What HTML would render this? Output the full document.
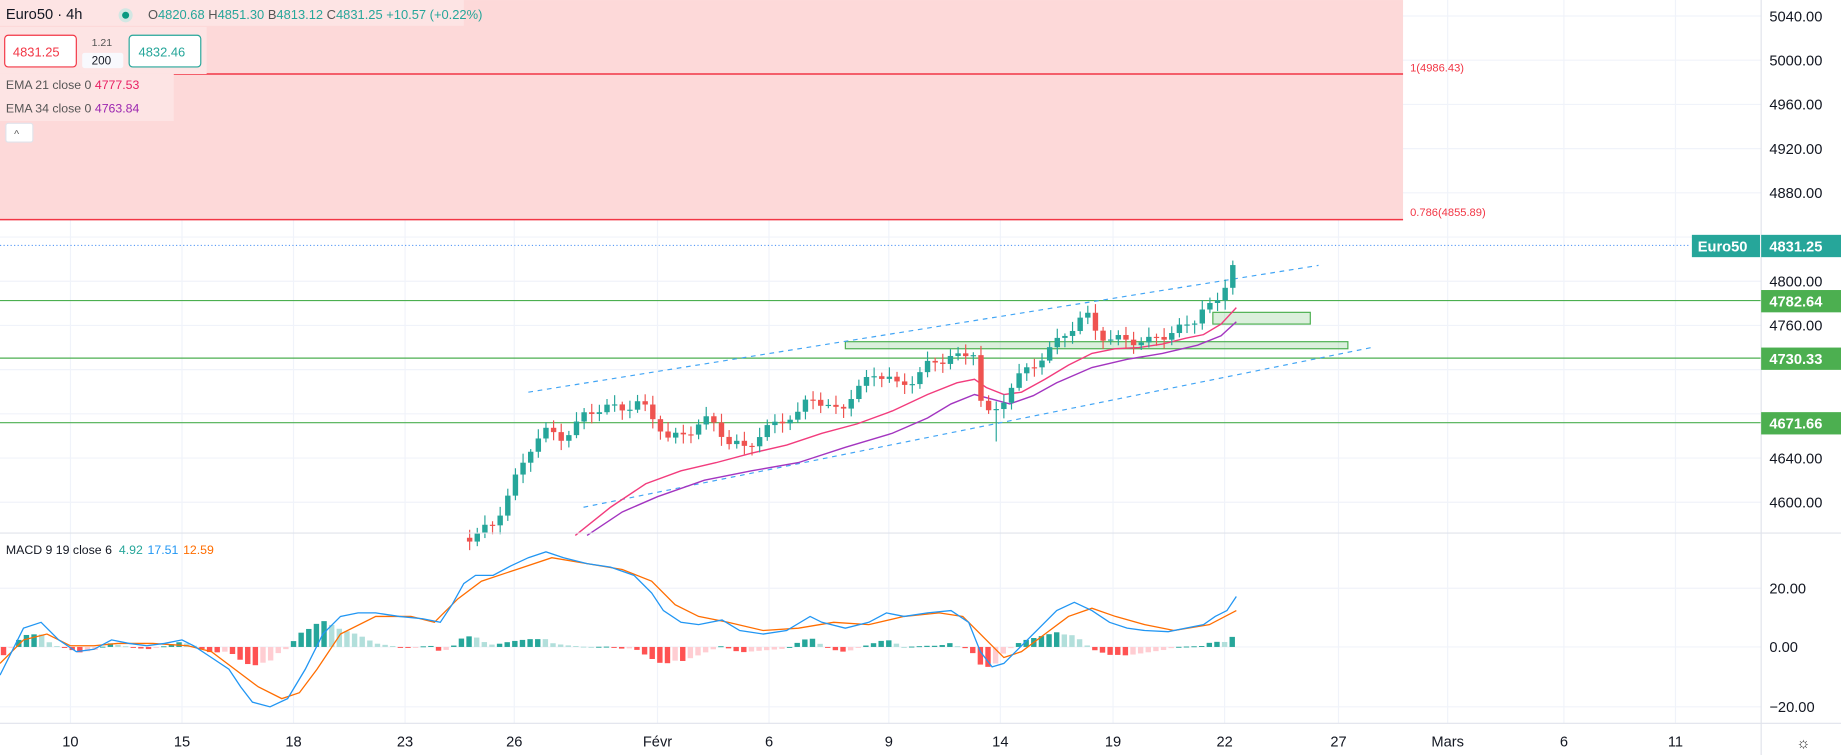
<!DOCTYPE html>
<html><head><meta charset="utf-8"><style>
html,body{margin:0;padding:0;background:#fff;overflow:hidden}
svg{display:block}
text{font-family:"Liberation Sans",sans-serif}
</style></head><body>
<svg id="s" width="1841" height="755" viewBox="0 0 1568 643" xmlns="http://www.w3.org/2000/svg">
<rect x="0" y="0" width="1568" height="643" fill="#fff"/>
<g id="grid" stroke="#f0f3fa" stroke-width="1"></g>
<rect x="0" y="0" width="1195" height="187" fill="#fdd9d9"/>
<line x1="0" y1="63" x2="1195" y2="63" stroke="#f23645" stroke-width="1.3"/>
<line x1="0" y1="187" x2="1195" y2="187" stroke="#f23645" stroke-width="1.3"/>
<text x="1201" y="61" font-size="9.5" fill="#f23645">1(4986.43)</text>
<text x="1201" y="184" font-size="9.5" fill="#f23645">0.786(4855.89)</text>
<line x1="0" y1="256" x2="1500" y2="256" stroke="#4caf50" stroke-width="1"/>
<line x1="0" y1="305" x2="1500" y2="305" stroke="#4caf50" stroke-width="1"/>
<line x1="0" y1="360" x2="1500" y2="360" stroke="#4caf50" stroke-width="1"/>
<rect x="720" y="291" width="428" height="6" fill="rgba(76,175,80,0.2)" stroke="#4caf50" stroke-width="1"/>
<rect x="1033" y="266" width="83" height="10" fill="rgba(76,175,80,0.2)" stroke="#4caf50" stroke-width="1"/>
<line x1="450" y1="334" x2="1123" y2="226" stroke="#42a5f5" stroke-dasharray="4,4" stroke-width="1"/>
<line x1="497" y1="432" x2="1168" y2="296" stroke="#42a5f5" stroke-dasharray="4,4" stroke-width="1"/>
<line x1="0" y1="209" x2="1440" y2="209" stroke="#5b9cf6" stroke-dasharray="1,2" stroke-width="1"/>
<g id="ema"></g>
<g id="candles"></g>
<g id="macd"></g>
<line x1="0" y1="454" x2="1568" y2="454" stroke="#e0e3eb"/>
<line x1="0" y1="616" x2="1568" y2="616" stroke="#e0e3eb"/>
<line x1="1500" y1="0" x2="1500" y2="643" stroke="#e0e3eb"/>
<g id="axis" font-size="12.5" fill="#131722"></g>
<rect x="1441" y="200" width="58" height="19" fill="#26a69a"/>
<text x="1446" y="214" font-size="12.5" fill="#fff" font-weight="bold">Euro50</text>
<rect x="1500" y="200" width="68" height="19" fill="#26a69a"/>
<text x="1507" y="214" font-size="12.5" fill="#fff" font-weight="bold">4831.25</text>
<rect x="1500" y="247" width="68" height="19" fill="#4caf50"/>
<text x="1507" y="261" font-size="12.5" fill="#fff" font-weight="bold">4782.64</text>
<rect x="1500" y="296" width="68" height="19" fill="#4caf50"/>
<text x="1507" y="310" font-size="12.5" fill="#fff" font-weight="bold">4730.33</text>
<rect x="1500" y="351" width="68" height="19" fill="#4caf50"/>
<text x="1507" y="365" font-size="12.5" fill="#fff" font-weight="bold">4671.66</text>
<rect x="0" y="0" width="395" height="22" fill="#fde4e4"/>
<text x="5" y="16" font-size="12.5" fill="#131722">Euro50 · 4h</text>
<circle cx="107" cy="13" r="6" fill="#d2e7e3"/><circle cx="107" cy="13" r="3" fill="#089981"/>
<text x="126" y="16" font-size="11" fill="#26a69a"><tspan fill="#555">O</tspan>4820.68 <tspan fill="#555">H</tspan>4851.30 <tspan fill="#555">B</tspan>4813.12 <tspan fill="#555">C</tspan>4831.25 +10.57 (+0.22%)</text>
<rect x="0" y="23" width="176" height="40" fill="#fde4e4"/>
<rect x="4" y="30" width="61" height="27" rx="3" fill="#fff" stroke="#f23645"/>
<text x="11" y="48" font-size="11" fill="#f23645">4831.25</text>
<text x="78" y="39" font-size="9" fill="#555">1.21</text>
<rect x="70" y="45" width="35" height="13" rx="2" fill="#f8f9fd"/>
<text x="78" y="55" font-size="10" fill="#131722">200</text>
<rect x="110" y="30" width="61" height="27" rx="3" fill="#fff" stroke="#26a69a"/>
<text x="118" y="48" font-size="11" fill="#26a69a">4832.46</text>
<rect x="0" y="63" width="148" height="40" fill="#fde4e4"/>
<text x="5" y="76" font-size="10.5" fill="#555">EMA 21 close 0 <tspan fill="#e91e63">4777.53</tspan></text>
<text x="5" y="96" font-size="10.5" fill="#555">EMA 34 close 0 <tspan fill="#9c27b0">4763.84</tspan></text>
<rect x="5" y="105" width="23" height="16" rx="2" fill="#fff" stroke="#e0e3eb"/>
<text x="12" y="117" font-size="9" fill="#555">^</text>
<text x="5" y="472" font-size="10.5" fill="#131722">MACD 9 19 close 6 <tspan fill="#26a69a" dx="3">4.92</tspan><tspan fill="#2196f3" dx="4">17.51</tspan><tspan fill="#ff6d00" dx="4">12.59</tspan></text>
<text x="1530" y="637" font-size="13" fill="#333">☼</text>
</svg>
<script>
const NS="http://www.w3.org/2000/svg";
function el(tag,attrs,parent,txt){const e=document.createElementNS(NS,tag);for(const k in attrs)e.setAttribute(k,attrs[k]);if(txt!==undefined)e.textContent=txt;document.getElementById(parent).appendChild(e);return e;}
function interp(pts,x){if(x<=pts[0][0])return pts[0][1];for(let i=1;i<pts.length;i++){if(x<=pts[i][0]){const a=pts[i-1],b=pts[i];return a[1]+(b[1]-a[1])*(x-a[0])/(b[0]-a[0]);}}return pts[pts.length-1][1];}
const py=p=>360.3+(4671.66-p)*0.9412;
const tx=[[60,"10"],[155,"15"],[250,"18"],[345,"23"],[438,"26"],[560,"Févr"],[655,"6"],[757,"9"],[852,"14"],[948,"19"],[1043,"22"],[1140,"27"],[1233,"Mars"],[1332,"6"],[1427,"11"]];
tx.forEach(t=>{el("line",{x1:t[0],y1:0,x2:t[0],y2:616},"grid");el("text",{x:t[0],y:636,"text-anchor":"middle"},"axis",t[1]);});
[5040,5000,4960,4920,4880,4840,4800,4760,4720,4680,4640,4600].forEach(p=>{const y=py(p);el("line",{x1:0,y1:y,x2:1500,y2:y},"grid");if([4840,4720,4680].indexOf(p)<0)el("text",{x:1507,y:y+4.5},"axis",p.toFixed(2));});
[[501,"20.00"],[551,"0.00"],[602,"\u221220.00"]].forEach(a=>{el("line",{x1:0,y1:a[0],x2:1500,y2:a[0]},"grid");el("text",{x:1507,y:a[0]+4.5},"axis",a[1]);});
const cp=[[400,458],[420,445],[437,410],[445,395],[455,375],[465,370],[480,375],[490,365],[500,350],[515,345],[530,345],[545,343],[560,362],[570,378],[580,372],[590,366],[600,357],[610,358],[620,375],[635,380],[650,370],[665,360],[680,355],[690,335],[705,345],[715,348],[725,335],[745,320],[755,322],[765,332],[775,326],[790,310],[800,305],[810,300],[820,305],[830,298],[836,345],[842,355],[850,352],[860,332],[870,320],[880,310],[895,295],[905,283],[915,276],[925,268],[935,285],[945,293],[960,290],[975,292],[985,285],[1000,280],[1015,275],[1025,262],[1035,265],[1043,245],[1048,236],[1053,210]];
let prev=interp(cp,395);
for(let x=400;x<=1054;x+=6.5){
 let c=interp(cp,x)+Math.sin(x*1.7)*4+Math.cos(x*0.9)*2.5;
 if(x>1050)c=210;
 const o=prev;const up=c<o;
 let hi=Math.min(o,c)-2-Math.abs(Math.sin(x*3.1))*6;let lo=Math.max(o,c)+2+Math.abs(Math.cos(x*2.3))*6;
 if(x>1050)hi=190; if(Math.abs(x-848)<4)lo=376;
 const col=up?"#26a69a":"#ef5350";
 el("line",{x1:x,y1:hi,x2:x,y2:lo,stroke:col,"stroke-width":1},"candles");
 el("rect",{x:x-2.3,y:Math.min(o,c),width:4.6,height:Math.max(1,Math.abs(o-c)),fill:col},"candles");
 prev=c;
}
const pink=[[490,456],[520,432],[550,412],[580,401],[610,394],[640,386],[670,379],[700,369],[730,361],[760,350],[790,336],[815,326],[830,323],[840,330],[855,336],[870,334],[890,323],[910,311],[930,301],[950,297],[970,296],[990,293],[1010,288],[1025,285],[1040,276],[1053,262]];
const purp=[[500,456],[530,436],[560,423],[600,409],[640,401],[680,394],[720,381],[760,369],[790,356],[810,344],[830,336],[845,340],[860,344],[880,337],[900,326],[930,313],[960,306],[990,301],[1020,294],[1040,286],[1053,274]];
const pth=p=>"M"+p.map(a=>a[0]+","+a[1]).join(" L");
el("path",{d:pth(pink),fill:"none",stroke:"#f23c7d","stroke-width":1.2},"ema");
el("path",{d:pth(purp),fill:"none",stroke:"#a335c0","stroke-width":1.2},"ema");
const blue=[[0,575],[10,555],[20,535],[35,530],[50,545],[65,555],[80,553],[95,545],[110,548],[125,550],[140,548],[155,545],[165,550],[180,560],[195,570],[205,585],[215,598],[230,602],[245,595],[260,570],[275,540],[290,525],[305,522],[320,522],[340,525],[360,527],[375,530],[385,515],[395,497],[405,490],[420,490],[435,482],[450,475],[465,470],[480,475],[500,480],[520,483],[540,490],[555,505],[565,520],[580,530],[595,532],[615,528],[630,537],[650,540],[670,537],[690,525],[700,530],[720,535],[740,530],[755,522],[770,525],[790,522],[810,520],[825,530],[835,555],[845,568],[855,565],[870,550],[885,535],[900,520],[915,513],[930,520],[945,530],[960,535],[975,537],[995,538],[1010,535],[1025,532],[1035,525],[1045,520],[1053,508]];
const orng=[[0,565],[20,545],[40,540],[60,550],[80,550],[100,548],[130,548],[160,550],[180,555],[200,570],[220,585],[240,595],[255,590],[270,570],[290,540],[320,525],[350,525],[370,530],[390,510],[410,495],[440,485],[470,475],[500,480],[530,485],[555,495],[575,515],[595,525],[620,530],[650,537],[680,535],[710,530],[740,532],[770,525],[800,522],[820,525],[840,545],[855,560],[870,555],[890,540],[910,525],[930,518],[950,525],[975,532],[1000,537],[1030,532],[1053,520]];
let ph=0;
for(let x=3;x<=1054;x+=6.5){
 const h=(interp(orng,x)-interp(blue,x))*1.0;
 let col;
 if(h>=0)col=h>=ph?"#26a69a":"#b2dfdb";else col=h<ph?"#ff5252":"#ffcdd2";
 el("rect",{x:x-2.3,y:h>=0?551-h:551,width:4.6,height:Math.max(0.8,Math.abs(h)),fill:col},"macd");
 ph=h;
}
el("path",{d:pth(orng),fill:"none",stroke:"#ff6d00","stroke-width":1.1},"macd");
el("path",{d:pth(blue),fill:"none",stroke:"#2196f3","stroke-width":1.1},"macd");
</script>
</body></html>
